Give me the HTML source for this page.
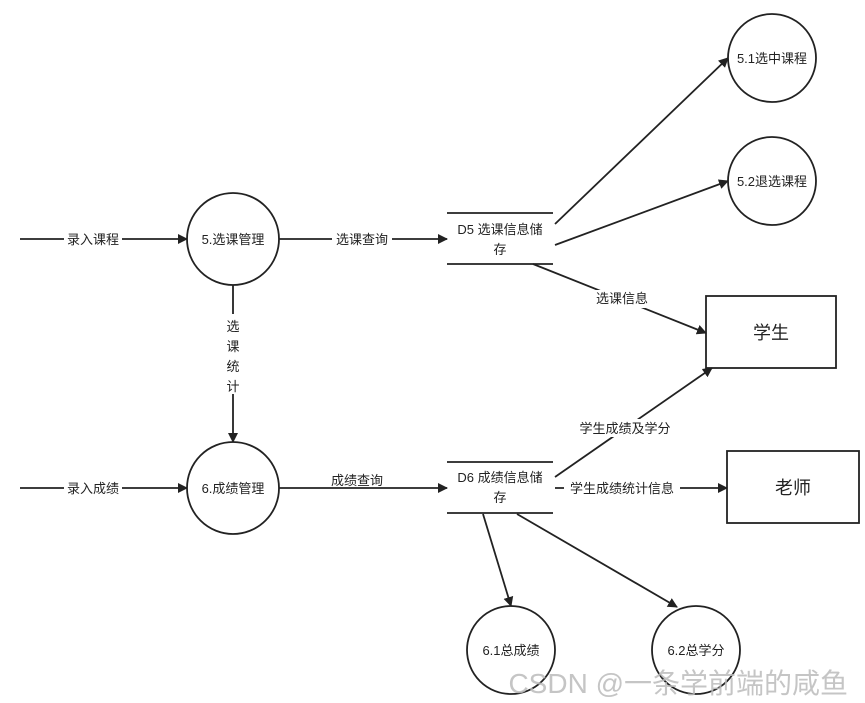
<!DOCTYPE html>
<html><head><meta charset="utf-8"><style>
html,body{margin:0;padding:0;background:#fff;}
svg{display:block;font-family:"Liberation Sans","Noto Sans CJK SC",sans-serif;}
</style></head><body>
<svg width="865" height="703" viewBox="0 0 865 703" xmlns="http://www.w3.org/2000/svg">
<defs><marker id="a" markerWidth="10" markerHeight="10" refX="9" refY="5" orient="auto" markerUnits="userSpaceOnUse"><path d="M0,0 L10,5 L0,10 z" fill="#222"/></marker></defs>
<g stroke="#222" stroke-width="1.8" fill="none">
<circle cx="233" cy="239" r="46" fill="#fff"/>
<circle cx="233" cy="488" r="46" fill="#fff"/>
<ellipse cx="772" cy="58" rx="44" ry="44" fill="#fff"/>
<ellipse cx="772" cy="181" rx="44" ry="44" fill="#fff"/>
<ellipse cx="511" cy="650" rx="44" ry="44" fill="#fff"/>
<ellipse cx="696" cy="650" rx="44" ry="44" fill="#fff"/>
<rect x="706" y="296" width="130" height="72" fill="#fff"/>
<rect x="727" y="451" width="132" height="72" fill="#fff"/>
<line x1="447" y1="213" x2="553" y2="213"/><line x1="447" y1="264" x2="553" y2="264"/>
<line x1="447" y1="462" x2="553" y2="462"/><line x1="447" y1="513" x2="553" y2="513"/>
<line x1="20" y1="239" x2="187" y2="239" marker-end="url(#a)"/>
<line x1="279" y1="239" x2="447" y2="239" marker-end="url(#a)"/>
<line x1="233" y1="285" x2="233" y2="442" marker-end="url(#a)"/>
<line x1="20" y1="488" x2="187" y2="488" marker-end="url(#a)"/>
<line x1="279" y1="488" x2="447" y2="488" marker-end="url(#a)"/>
<line x1="555" y1="224" x2="728" y2="58" marker-end="url(#a)"/>
<line x1="555" y1="245" x2="728" y2="181" marker-end="url(#a)"/>
<line x1="533" y1="264" x2="706" y2="333" marker-end="url(#a)"/>
<line x1="555" y1="477" x2="712" y2="368" marker-end="url(#a)"/>
<line x1="555" y1="488" x2="727" y2="488" marker-end="url(#a)"/>
<line x1="483" y1="514" x2="511" y2="606" marker-end="url(#a)"/>
<line x1="517" y1="514" x2="677" y2="607" marker-end="url(#a)"/>
</g>
<g font-size="13" fill="#222" text-anchor="middle">
<rect x="64" y="230" width="58" height="18" fill="#fff"/><text x="93" y="244">录入课程</text>
<rect x="64" y="479" width="58" height="18" fill="#fff"/><text x="93" y="493">录入成绩</text>
<rect x="332" y="230" width="60" height="18" fill="#fff"/><text x="362" y="244">选课查询</text>
<text x="357" y="485">成绩查询</text>
<rect x="224" y="314" width="18" height="80" fill="#fff"/>
<text x="233" y="331">选</text><text x="233" y="351">课</text><text x="233" y="371">统</text><text x="233" y="391">计</text>
<text x="233" y="244">5.选课管理</text>
<text x="233" y="493">6.成绩管理</text>
<text x="500" y="234">D5 选课信息储</text><text x="500" y="254">存</text>
<text x="500" y="482">D6 成绩信息储</text><text x="500" y="502">存</text>
<text x="772" y="63">5.1选中课程</text>
<text x="772" y="186">5.2退选课程</text>
<text x="511" y="655">6.1总成绩</text>
<text x="696" y="655">6.2总学分</text>
<rect x="589" y="290" width="66" height="18" fill="#fff"/><text x="622" y="303">选课信息</text>
<rect x="574" y="419" width="102" height="18" fill="#fff"/><text x="625" y="433">学生成绩及学分</text>
<rect x="564" y="479" width="116" height="18" fill="#fff"/><text x="622" y="493">学生成绩统计信息</text>
<text x="771" y="339" font-size="18">学生</text>
<text x="793" y="494" font-size="18">老师</text>
</g>
<text x="848" y="693" font-size="28" fill="#bbb" fill-opacity="0.85" text-anchor="end" font-family="Liberation Sans,Noto Sans CJK SC,sans-serif">CSDN @一条学前端的咸鱼</text>
</svg>
</body></html>
